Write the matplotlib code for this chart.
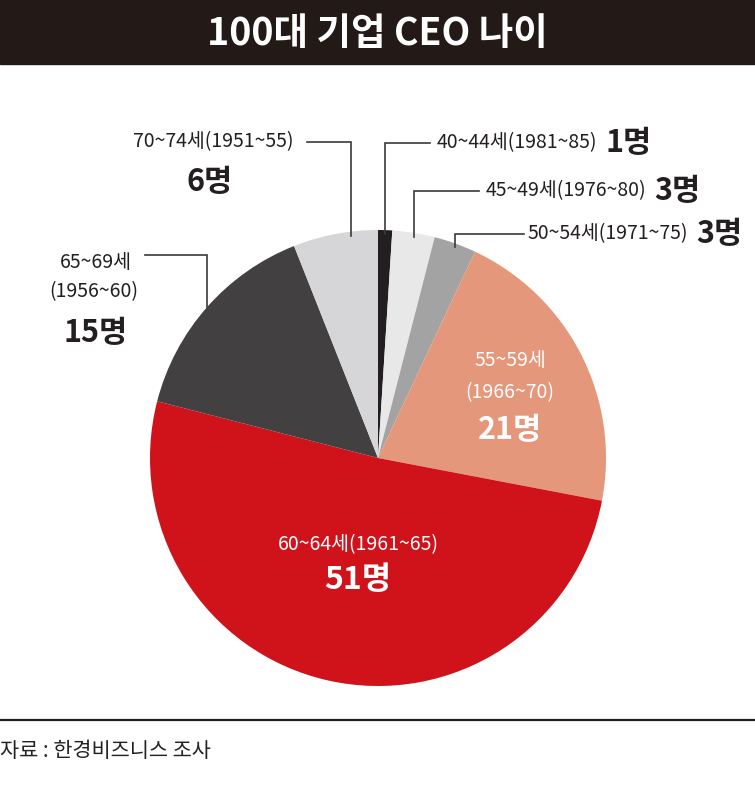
import matplotlib
matplotlib.use('Agg')
import matplotlib.pyplot as plt
from matplotlib import font_manager
from matplotlib.patches import Rectangle
import numpy as np

# ---- data ----
age_groups = ['40~44세', '45~49세', '50~54세', '55~59세', '60~64세', '65~69세', '70~74세']
birth_years = ['(1981~85)', '(1976~80)', '(1971~75)', '(1966~70)', '(1961~65)', '(1956~60)', '(1951~55)']
counts = [1, 3, 3, 21, 51, 15, 6]
colors = ['#231f20', '#e8e8e8', '#a3a3a3', '#e4977a', '#d0121b', '#434041', '#d6d6d8']
unit = '명'
title = '100대 기업 CEO 나이'
source = '자료 : 한경비즈니스 조사'

# ---- fonts ----
avail = {f.name for f in font_manager.fontManager.ttflist}
KR = 'Noto Sans CJK KR'
if 'Liberation Sans Narrow' in avail:
    LAB = ['Liberation Sans Narrow', KR]
    lab_size = 17
else:
    LAB = [KR]
    lab_size = 14
BOLD = [KR, 'DejaVu Sans']

W, H = 755, 794
fig = plt.figure(figsize=(W / 100, H / 100), dpi=100)
ax = fig.add_axes([0, 0, 1, 1])


def Y(y):
    return H - y


cx, cy, R = 378, Y(458), 228
wedges, _ = ax.pie(counts, colors=colors, startangle=90, counterclock=False,
                   center=(cx, cy), radius=R, wedgeprops=dict(linewidth=0))
ax.set_xlim(0, W)
ax.set_ylim(0, H)
ax.set_aspect('equal')
ax.axis('off')

# title bar
ax.add_patch(Rectangle((0, Y(64)), W, 64, color='#231916', zorder=5))
ax.text(W / 2, Y(33), title, ha='center', va='center', color='white',
        fontsize=27, fontweight='heavy', family=BOLD, zorder=6)

# footer
ax.plot([0, W], [Y(720), Y(720)], color='#231f20', lw=1.6)
ax.text(0, Y(751), source, ha='left', va='center', fontsize=15,
        color='#222222', family=[KR])

LC = '#3a3a3a'
LW = 1.2


def anchor(i, frac=0.5, inset=4):
    w = wedges[i]
    a = np.deg2rad(w.theta1 + frac * (w.theta2 - w.theta1))
    return cx + R * np.cos(a), cy + R * np.sin(a) - inset


fig.canvas.draw()
rend = fig.canvas.get_renderer()


def right_of(t, gap):
    bb = t.get_window_extent(rend)
    return ax.transData.inverted().transform((bb.x1, bb.y0))[0] + gap


# right side labels: (index, line y, line end x, text x)
right_specs = [(0, 143, 430, 437), (1, 191, 479, 486), (2, 234, 524, 528)]
for i, ly, lx_end, tx in right_specs:
    vx, vy = anchor(i, 0.5)
    ax.plot([vx, vx, lx_end], [vy, Y(ly), Y(ly)], color=LC, lw=LW, solid_joinstyle='miter')
    t = ax.text(tx, Y(ly), age_groups[i] + birth_years[i], ha='left', va='center',
                fontsize=lab_size, family=LAB, color='#231f20')
    fig.canvas.draw()
    ax.text(right_of(t, 8), Y(ly), f'{counts[i]}{unit}', ha='left', va='center',
            fontsize=22, fontweight='heavy', family=BOLD, color='#231f20')

# 70~74
i = 6
vx, vy = anchor(i, 0.315)
ax.plot([vx, vx, 307], [vy, Y(142), Y(142)], color=LC, lw=LW, solid_joinstyle='miter')
ax.text(294, Y(142), age_groups[i] + birth_years[i], ha='right', va='center',
        fontsize=lab_size, family=LAB, color='#231f20')
ax.text(210, Y(182), f'{counts[i]}{unit}', ha='center', va='center',
        fontsize=22, fontweight='heavy', family=BOLD, color='#231f20')

# 65~69
i = 5
vx, vy = anchor(i, 0.5, inset=0)
ax.plot([vx, vx, 145], [vy, Y(255), Y(255)], color=LC, lw=LW, solid_joinstyle='miter')
ax.text(96, Y(262), age_groups[i], ha='center', va='center',
        fontsize=lab_size, family=LAB, color='#231f20')
ax.text(94, Y(292), birth_years[i], ha='center', va='center',
        fontsize=lab_size, family=LAB, color='#231f20')
ax.text(96, Y(333), f'{counts[i]}{unit}', ha='center', va='center',
        fontsize=22, fontweight='heavy', family=BOLD, color='#231f20')

# 55~59 inside
i = 3
ax.text(510, Y(360), age_groups[i], ha='center', va='center',
        fontsize=lab_size, family=LAB, color='white')
ax.text(510, Y(393), birth_years[i], ha='center', va='center',
        fontsize=lab_size, family=LAB, color='white')
ax.text(510, Y(430), f'{counts[i]}{unit}', ha='center', va='center',
        fontsize=22, fontweight='heavy', family=BOLD, color='white')

# 60~64 inside
i = 4
ax.text(358, Y(545), age_groups[i] + birth_years[i], ha='center', va='center',
        fontsize=lab_size, family=LAB, color='white')
ax.text(358, Y(580), f'{counts[i]}{unit}', ha='center', va='center',
        fontsize=23, fontweight='heavy', family=BOLD, color='white')

fig.savefig('out.png', dpi=100)
